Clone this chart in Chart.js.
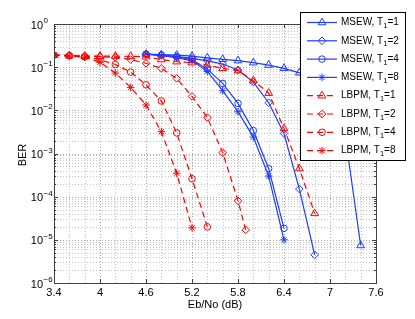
<!DOCTYPE html>
<html>
<head>
<meta charset="utf-8">
<script src="https://cdn.jsdelivr.net/npm/chart.js@4.4.1/dist/chart.umd.min.js"></script>
<style>
  html, body { margin: 0; padding: 0; background: #fff; }
  #wrap { width: 415px; height: 319px; }
</style>
</head>
<body>
<div id="wrap"><canvas id="chart-ber" width="415" height="319"></canvas></div>
<script>
// ===== BER vs Eb/No =====
const xTicks = [3.4, 4, 4.6, 5.2, 5.8, 6.4, 7, 7.6];
const xTickLabels = ['3.4', '4', '4.6', '5.2', '5.8', '6.4', '7', '7.6'];
const yTicks = [1e-6, 1e-5, 1e-4, 1e-3, 1e-2, 1e-1, 1];
const yTickExps = ['\u22126', '\u22125', '\u22124', '\u22123', '\u22122', '\u22121', '0'];

// MSEW curves
const msewX1 = [4.6, 4.8, 5.0, 5.2, 5.4, 5.6, 5.8, 6.0, 6.2, 6.4, 6.6, 6.8, 7.0, 7.2, 7.4];
const msewY1 = [0.2, 0.195, 0.19, 0.18, 0.165, 0.152, 0.142, 0.127, 0.112, 0.094, 0.074, 0.05, 0.02, 2.5e-3, 7.4e-6];
const msewX2 = [4.6, 4.8, 5.0, 5.2, 5.4, 5.6, 5.8, 6.0, 6.2, 6.4, 6.6, 6.8];
const msewY2 = [0.2, 0.19, 0.175, 0.16, 0.14, 0.118, 0.086, 0.045, 0.015, 2.9e-3, 1.5e-4, 4.5e-6];
const msewX4 = [4.6, 4.8, 5.0, 5.2, 5.4, 5.6, 5.8, 6.0, 6.2, 6.4];
const msewY4 = [0.2, 0.19, 0.175, 0.15, 0.09, 0.042, 0.0145, 3.4e-3, 4.5e-4, 1.85e-5];
const msewX8 = [4.6, 4.8, 5.0, 5.2, 5.4, 5.6, 5.8, 6.0, 6.2, 6.4];
const msewY8 = [0.2, 0.185, 0.165, 0.14, 0.08, 0.0285, 9.3e-3, 2.4e-3, 3e-4, 1e-5];

// LBPM curves
const lbpmX1 = [3.4, 3.6, 3.8, 4.0, 4.2, 4.4, 4.6, 4.8, 5.0, 5.2, 5.4, 5.6, 5.8, 6.0, 6.2, 6.4, 6.6, 6.8];
const lbpmY1 = [0.19, 0.185, 0.18, 0.18, 0.18, 0.178, 0.175, 0.15, 0.134, 0.127, 0.112, 0.094, 0.083, 0.049, 0.025, 3.8e-3, 4.5e-4, 4.1e-5];
const lbpmX2 = [3.4, 3.6, 3.8, 4.0, 4.2, 4.4, 4.6, 4.8, 5.0, 5.2, 5.4, 5.6, 5.8, 5.9];
const lbpmY2 = [0.19, 0.185, 0.18, 0.175, 0.17, 0.15, 0.123, 0.094, 0.055, 0.021, 6.8e-3, 1.05e-3, 8e-5, 1.7e-5];
const lbpmX4 = [3.4, 3.6, 3.8, 4.0, 4.2, 4.4, 4.6, 4.8, 5.0, 5.2, 5.4];
const lbpmY4 = [0.19, 0.185, 0.175, 0.15, 0.115, 0.077, 0.039, 0.0165, 3e-3, 2.6e-4, 2e-5];
const lbpmX8 = [3.4, 3.6, 3.8, 4.0, 4.2, 4.4, 4.6, 4.8, 5.0, 5.2];
const lbpmY8 = [0.19, 0.18, 0.17, 0.13, 0.073, 0.034, 0.0133, 3.2e-3, 3.5e-4, 1.9e-5];

const BLUE = 'rgb(30,60,255)';
const RED = 'rgb(255,0,0)';
const FONT = '"Liberation Sans", Arial, Helvetica, sans-serif';

function series(label, xs, ys, color, dashed, style, radius) {
    return {
        label,
        data: xs.map((x, i) => ({ x, y: ys[i] })),
        borderColor: color,
        borderWidth: 1.2,
        borderDash: dashed ? [6, 4] : [],
        pointStyle: style,
        pointRadius: radius,
        pointBorderColor: color,
        pointBackgroundColor: 'rgba(0,0,0,0)',
        pointBorderWidth: 1,
        fill: false,
        tension: 0,
        order: dashed ? 0 : 1,
    };
}

const datasets = [
    series('MSEW, T1=1', msewX1, msewY1, BLUE, false, 'triangle', 4.5),
    series('MSEW, T1=2', msewX2, msewY2, BLUE, false, 'rectRot', 3.8),
    series('MSEW, T1=4', msewX4, msewY4, BLUE, false, 'circle', 3.3),
    series('MSEW, T1=8', msewX8, msewY8, BLUE, false, 'star', 3.8),
    series('LBPM, T1=1', lbpmX1, lbpmY1, RED, true, 'triangle', 4.5),
    series('LBPM, T1=2', lbpmX2, lbpmY2, RED, true, 'rectRot', 3.8),
    series('LBPM, T1=4', lbpmX4, lbpmY4, RED, true, 'circle', 3.3),
    series('LBPM, T1=8', lbpmX8, lbpmY8, RED, true, 'star', 3.8),
];

// grid, box, ticks, y labels, titles and legend drawn MATLAB style
const matlabAxes = {
    id: 'matlabAxes',
    beforeDatasetsDraw(chart) {
        const { ctx, chartArea: a, scales: { x, y } } = chart;
        ctx.save();
        ctx.lineWidth = 1;
        ctx.setLineDash([1, 2]);
        // vertical grid
        for (let i = 0; i < xTicks.length - 1; i++) {
            for (let j = 0; j < 3; j++) {
                if (i === 0 && j === 0) continue;
                const v = xTicks[i] + (xTicks[i + 1] - xTicks[i]) * j / 3;
                const px = Math.round(x.getPixelForValue(v)) + 0.5;
                ctx.strokeStyle = j === 0 ? '#a8a8a8' : '#c4c4c4';
                ctx.beginPath(); ctx.moveTo(px, a.top); ctx.lineTo(px, a.bottom); ctx.stroke();
            }
        }
        // horizontal grid
        for (let k = -6; k < 0; k++) {
            for (let m = 1; m <= 9; m++) {
                if (k === -6 && m === 1) continue;
                const py = Math.round(y.getPixelForValue(m * Math.pow(10, k))) + 0.5;
                ctx.strokeStyle = m === 1 ? '#a8a8a8' : '#c4c4c4';
                ctx.beginPath(); ctx.moveTo(a.left, py); ctx.lineTo(a.right, py); ctx.stroke();
            }
        }
        ctx.restore();
    },
    afterDatasetsDraw(chart) {
        const { ctx, chartArea: a, scales: { x, y } } = chart;
        ctx.save();
        ctx.setLineDash([]);
        ctx.strokeStyle = '#404040';
        ctx.lineWidth = 1;
        ctx.strokeRect(Math.round(a.left) + 0.5, Math.round(a.top) + 0.5, Math.round(a.right - a.left), Math.round(a.bottom - a.top));
        // tick marks
        ctx.beginPath();
        xTicks.forEach(v => {
            const px = Math.round(x.getPixelForValue(v)) + 0.5;
            ctx.moveTo(px, a.bottom); ctx.lineTo(px, a.bottom - 4);
            ctx.moveTo(px, a.top); ctx.lineTo(px, a.top + 4);
        });
        for (let k = -6; k <= 0; k++) {
            for (let m = 1; m <= 9; m++) {
                if (k === 0 && m > 1) break;
                const py = Math.round(y.getPixelForValue(m * Math.pow(10, k))) + 0.5;
                const len = m === 1 ? 4 : 2;
                ctx.moveTo(a.left, py); ctx.lineTo(a.left + len, py);
                ctx.moveTo(a.right, py); ctx.lineTo(a.right - len, py);
            }
        }
        ctx.stroke();

        // y tick labels 10^k
        ctx.fillStyle = '#000';
        yTicks.forEach((v, i) => {
            const py = y.getPixelForValue(v);
            ctx.font = '11px ' + FONT;
            ctx.textAlign = 'right';
            ctx.textBaseline = 'alphabetic';
            ctx.fillText('10', 43, py + 4.5);
            ctx.font = '8px ' + FONT;
            ctx.textAlign = 'left';
            ctx.fillText(yTickExps[i], 43.5, py - 1);
        });

        // axis titles
        ctx.font = '11px ' + FONT;
        ctx.textAlign = 'center';
        ctx.fillText('Eb/No (dB)', (a.left + a.right) / 2, 308);
        ctx.save();
        ctx.translate(25.5, 155);
        ctx.rotate(-Math.PI / 2);
        ctx.fillText('BER', 0, 0);
        ctx.restore();

        // legend
        const lx = 300.5, ly = 12.5, lw = 105, lh = 148;
        ctx.fillStyle = '#fff';
        ctx.fillRect(lx, ly, lw, lh);
        ctx.strokeStyle = '#000';
        ctx.strokeRect(lx, ly, lw, lh);
        chart.data.datasets.forEach((ds, i) => {
            const ry = 22.5 + i * 18.3;
            ctx.save();
            ctx.strokeStyle = ds.borderColor;
            ctx.lineWidth = ds.borderWidth;
            ctx.setLineDash(ds.borderDash);
            ctx.beginPath(); ctx.moveTo(307, ry); ctx.lineTo(337, ry); ctx.stroke();
            ctx.setLineDash([]);
            ctx.lineWidth = 1;
            ctx.fillStyle = 'rgba(0,0,0,0)';
            Chart.helpers.drawPoint(ctx, { pointStyle: ds.pointStyle, radius: ds.pointRadius, borderWidth: 1, rotation: 0 }, 322, ry);
            ctx.restore();
            const [name, rest] = ds.label.split('T1');
            ctx.fillStyle = '#000';
            ctx.textAlign = 'left';
            ctx.textBaseline = 'middle';
            ctx.font = '10px ' + FONT;
            let tx = 341;
            ctx.fillText(name + 'T', tx, ry);
            tx += ctx.measureText(name + 'T').width;
            ctx.font = '7.5px ' + FONT;
            ctx.fillText('1', tx, ry + 3.5);
            tx += ctx.measureText('1').width;
            ctx.font = '10px ' + FONT;
            ctx.fillText(rest, tx, ry);
        });
        ctx.restore();
    }
};

new Chart(document.getElementById('chart-ber'), {
    type: 'line',
    data: { datasets },
    options: {
        responsive: false,
        animation: false,
        devicePixelRatio: 1,
        layout: { padding: { top: 24, right: 39, left: 0, bottom: 0 } },
        plugins: { legend: { display: false }, tooltip: { enabled: false } },
        scales: {
            x: {
                type: 'linear',
                min: 3.4,
                max: 7.6,
                afterBuildTicks: s => { s.ticks = xTicks.map(v => ({ value: v })); },
                afterFit: s => { s.height = 36; },
                ticks: {
                    color: '#000',
                    padding: 3,
                    maxRotation: 0,
                    autoSkip: false,
                    font: { family: FONT, size: 11 },
                    callback: v => xTickLabels[xTicks.indexOf(v)] ?? '',
                },
                grid: { display: false, drawTicks: false },
                border: { display: false },
            },
            y: {
                type: 'logarithmic',
                min: 1e-6,
                max: 1,
                afterBuildTicks: s => { s.ticks = yTicks.map(v => ({ value: v })); },
                afterFit: s => { s.width = 54; },
                ticks: { display: false },
                grid: { display: false, drawTicks: false },
                border: { display: false },
            }
        }
    },
    plugins: [matlabAxes]
});
</script>
</body>
</html>
